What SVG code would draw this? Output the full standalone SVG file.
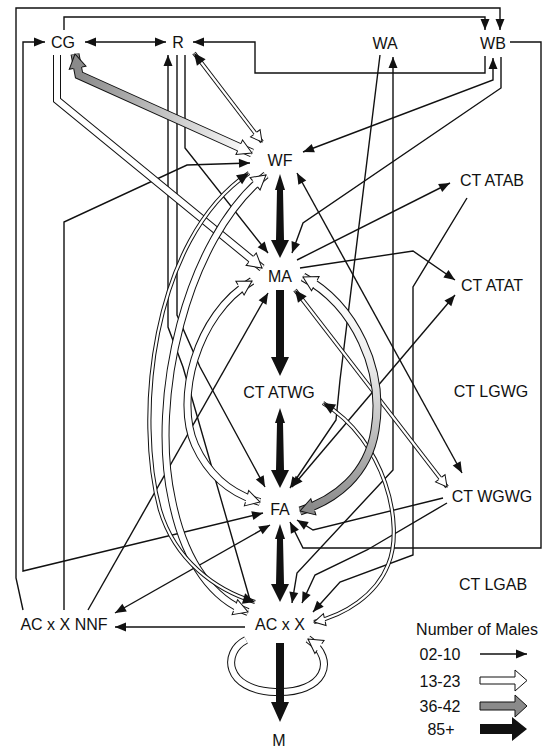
<svg xmlns="http://www.w3.org/2000/svg" xmlns:xlink="http://www.w3.org/1999/xlink" width="547" height="748" viewBox="0 0 547 748">
<style>
text{font-family:"Liberation Sans",Arial,sans-serif;font-size:16px;fill:#111;text-anchor:middle}
.ln{fill:none;stroke:#111;stroke-width:1.4;marker-end:url(#bk)}
.o8{fill:none;stroke:#111;stroke-width:8}
.i8{fill:none;stroke:#fff;stroke-width:6}
.o4{fill:none;stroke:#111;stroke-width:4.2}
.i4{fill:none;stroke:#fff;stroke-width:2.2}
.mk{fill:none;stroke:none}
.thick{fill:#111}
</style>
<defs>
<marker id="bk" markerUnits="userSpaceOnUse" markerWidth="12" markerHeight="10" refX="11" refY="4.5" orient="auto-start-reverse" overflow="visible"><path d="M0,0 L11,4.5 L0,9 Z" fill="#111"/></marker>
<marker id="bk2" markerUnits="userSpaceOnUse" markerWidth="13" markerHeight="12" refX="12" refY="5.5" orient="auto-start-reverse" overflow="visible"><path d="M0,0 L12,5.5 L0,11 Z" fill="#111"/></marker>
<marker id="wW" markerUnits="userSpaceOnUse" markerWidth="16" markerHeight="20" refX="15" refY="10" orient="auto-start-reverse" overflow="visible"><path d="M1,10 L1,2 L15,10 L1,18 Z" fill="#fff"/><path d="M1,6 L1,2 L15,10 L1,18 L1,14" fill="none" stroke="#111" stroke-width="1"/></marker>
<marker id="gW" markerUnits="userSpaceOnUse" markerWidth="16" markerHeight="20" refX="15" refY="10" orient="auto-start-reverse" overflow="visible"><path d="M1,10 L1,1.5 L15,10 L1,18.5 Z" fill="#8a8a8a"/><path d="M1,5.5 L1,1.5 L15,10 L1,18.5 L1,14.5" fill="none" stroke="#111" stroke-width="1"/></marker>
<marker id="wN" markerUnits="userSpaceOnUse" markerWidth="14" markerHeight="16" refX="12" refY="8" orient="auto-start-reverse" overflow="visible"><path d="M1,8 L1,2 L12,8 L1,14 Z" fill="#fff"/><path d="M1,5.9 L1,2 L12,8 L1,14 L1,10.1" fill="none" stroke="#111" stroke-width="1"/></marker>
<linearGradient id="g1" gradientUnits="userSpaceOnUse" x1="79" y1="75" x2="252" y2="153"><stop offset="0" stop-color="#8a8a8a"/><stop offset="1" stop-color="#fff"/></linearGradient>
<linearGradient id="g2" gradientUnits="userSpaceOnUse" x1="0" y1="280" x2="0" y2="510"><stop offset="0" stop-color="#fff"/><stop offset="0.35" stop-color="#eee"/><stop offset="1" stop-color="#8a8a8a"/></linearGradient>
<path id="pGray1" d="M75,54 L79,75 L252,153"/>
<path id="pGray2" d="M303,277 C355,305 385,370 375,430 C368,475 335,500 300,511"/>
<path id="pCGMA" d="M57,55 L57,100 L262,268"/>
<path id="pCa" d="M266,175 C185,240 150,400 172,500 C185,565 215,600 248,612"/>
<path id="pCb" d="M252,281 C195,315 175,400 195,445 C210,478 235,495 260,502"/>
<path id="pLoop" d="M246,640 C222,652 224,690 275,692 C325,694 338,660 308,639"/>
<path id="pCc" d="M249,173 C150,240 135,420 160,510 C175,560 215,590 255,602"/>
<path id="pRWF" d="M194,53 L262,142"/>
<path id="pMAWG" d="M295,290 L447,487"/>
<path id="pATWG" d="M323,403 C385,440 405,525 388,565 C376,595 345,615 314,622"/>
</defs>
<rect width="547" height="748" fill="#fff"/>
<g id="connectors">
<!-- thin lines -->
<path class="ln" d="M23,610 L16,578 L16,8 L500,8 L500,30"/>
<path class="ln" d="M64,30 L64,17 L485,17 L485,30"/>
<path class="ln" d="M85,42 L166,42" style="marker-start:url(#bk)"/>
<path class="ln" d="M485,56 L485,73 L255,73 L255,42 L193,42"/>
<path class="ln" d="M510,42 L541,42 L541,548 L303,548 L290,522"/>
<path class="ln" d="M303,152 L493,80 L493,58" style="marker-start:url(#bk)"/>
<path class="ln" d="M501,57 L501,88 L303,223 L292,253"/>
<path class="ln" d="M263,513 L23,571 L23,42 L45,42" style="marker-start:url(#bk)"/>
<path class="ln" d="M64,610 L64,222 L187,165 L250,163"/>
<path class="ln" d="M88,610 L268,293"/>
<path class="ln" d="M270,525 L115,613" style="marker-start:url(#bk)"/>
<path class="ln" d="M245,627 L115,627"/>
<path class="ln" d="M380,55 L340,380 L336,420 L290,488"/>
<path class="ln" d="M393,57 L393,470 L297,573 L292,603" style="marker-start:url(#bk)"/>
<path class="ln" d="M455,295 L292,487" style="marker-start:url(#bk)"/>
<path class="ln" d="M300,268 L413,251 L455,280"/>
<path class="ln" d="M297,260 L450,183"/>
<path class="ln" d="M467,198 L413,287 L413,555 L340,582 L313,612"/>
<path class="ln" d="M297,173 L462,473" style="marker-start:url(#bk)"/>
<path class="ln" d="M443,498 L313,530 L297,520"/>
<path class="ln" d="M447,503 L367,550 L315,575 L302,603"/>
<path class="ln" d="M185,55 L185,148 L268,253"/>
<path class="ln" d="M177,55 L177,315 L200,367 L265,487"/>
<path class="ln" d="M168,55 L168,327 L183,367 L250,600" style="marker-end:none;marker-start:url(#bk)"/>
<!-- white wide bands -->
<use href="#pCGMA" class="o8"/><use href="#pCGMA" class="i8"/><use href="#pCGMA" class="mk" style="marker-end:url(#wW)"/>
<use href="#pCa" class="o8"/><use href="#pCa" class="i8"/><use href="#pCa" class="mk" style="marker-start:url(#wW);marker-end:url(#wW)"/>
<use href="#pCb" class="o8"/><use href="#pCb" class="i8"/><use href="#pCb" class="mk" style="marker-start:url(#wW);marker-end:url(#wW)"/>
<use href="#pLoop" class="o8"/><use href="#pLoop" class="i8"/><use href="#pLoop" class="mk" style="marker-end:url(#wW)"/>
<!-- narrow hollow shafts -->
<use href="#pCc" class="o4"/><use href="#pCc" class="i4"/><use href="#pCc" class="mk" style="marker-start:url(#bk2);marker-end:url(#bk2)"/>
<use href="#pRWF" class="o4"/><use href="#pRWF" class="i4"/><use href="#pRWF" class="mk" style="marker-start:url(#bk2);marker-end:url(#wN)"/>
<use href="#pMAWG" class="o4"/><use href="#pMAWG" class="i4"/><use href="#pMAWG" class="mk" style="marker-start:url(#bk2);marker-end:url(#wN)"/>
<use href="#pATWG" class="o4"/><use href="#pATWG" class="i4"/><use href="#pATWG" class="mk" style="marker-start:url(#bk2);marker-end:url(#wN)"/>
<!-- gray bands -->
<use href="#pGray1" class="o8" style="stroke-width:9"/><use href="#pGray1" style="fill:none;stroke:url(#g1);stroke-width:7"/><use href="#pGray1" class="mk" style="marker-start:url(#gW);marker-end:url(#wW)"/>
<use href="#pGray2" class="o8" style="stroke-width:9"/><use href="#pGray2" style="fill:none;stroke:url(#g2);stroke-width:7"/><use href="#pGray2" class="mk" style="marker-start:url(#wW);marker-end:url(#gW)"/>
<!-- thick arrows -->
<polygon class="thick" points="280,174 285,190 283,190 284,240 289,240 280,258 271,240 276,240 277,190 275,190"/>
<polygon class="thick" points="276,290 284,290 284,357 289,357 280,376 271,357 276,357"/>
<polygon class="thick" points="280,408 285,423 283,423 284,470 289,470 280,488 271,470 276,470 277,423 275,423"/>
<polygon class="thick" points="280,524 285,539 283,539 284,584 289,584 280,602 271,584 276,584 277,539 275,539"/>
<polygon class="thick" points="276,643 284,643 284,702 289,702 280,722 271,702 276,702"/>
</g>
<g id="CG"><text x="63" y="48">CG</text></g>
<g id="R"><text x="178" y="48">R</text></g>
<g id="WA"><text x="385" y="49">WA</text></g>
<g id="WB"><text x="493" y="49">WB</text></g>
<g id="WF"><text x="280" y="166">WF</text></g>
<g id="CT_ATAB"><text x="492" y="186">CT ATAB</text></g>
<g id="MA"><text x="280" y="282">MA</text></g>
<g id="CT_ATAT"><text x="492" y="291">CT ATAT</text></g>
<g id="CT_ATWG"><text x="279" y="398">CT ATWG</text></g>
<g id="CT_LGWG"><text x="491" y="397">CT LGWG</text></g>
<g id="FA"><text x="280" y="515">FA</text></g>
<g id="CT_WGWG"><text x="492" y="502">CT WGWG</text></g>
<g id="CT_LGAB"><text x="493" y="590">CT LGAB</text></g>
<g id="ACxXNNF"><text x="64" y="630">AC x X NNF</text></g>
<g id="ACxX"><text x="280" y="630">AC x X</text></g>
<g id="M"><text x="279" y="746">M</text></g>
<g id="legend">
<text x="477" y="635">Number of Males</text>
<text x="440" y="660">02-10</text>
<text x="440" y="687">13-23</text>
<text x="440" y="712">36-42</text>
<text x="441" y="735">85+</text>
<path d="M480,654 L527,654" class="ln"/>
<path d="M480,677 L515,677 L515,670 L527,680.5 L515,691 L515,684 L480,684 Z" fill="#fff" stroke="#111" stroke-width="1"/>
<path d="M480,702 L515,702 L515,695 L527,706 L515,717 L515,710 L480,710 Z" fill="#8a8a8a" stroke="#111" stroke-width="1"/>
<path d="M480,724 L512,724 L512,717 L527,729 L512,741 L512,734 L480,734 Z" fill="#111"/>
</g>
</svg>
